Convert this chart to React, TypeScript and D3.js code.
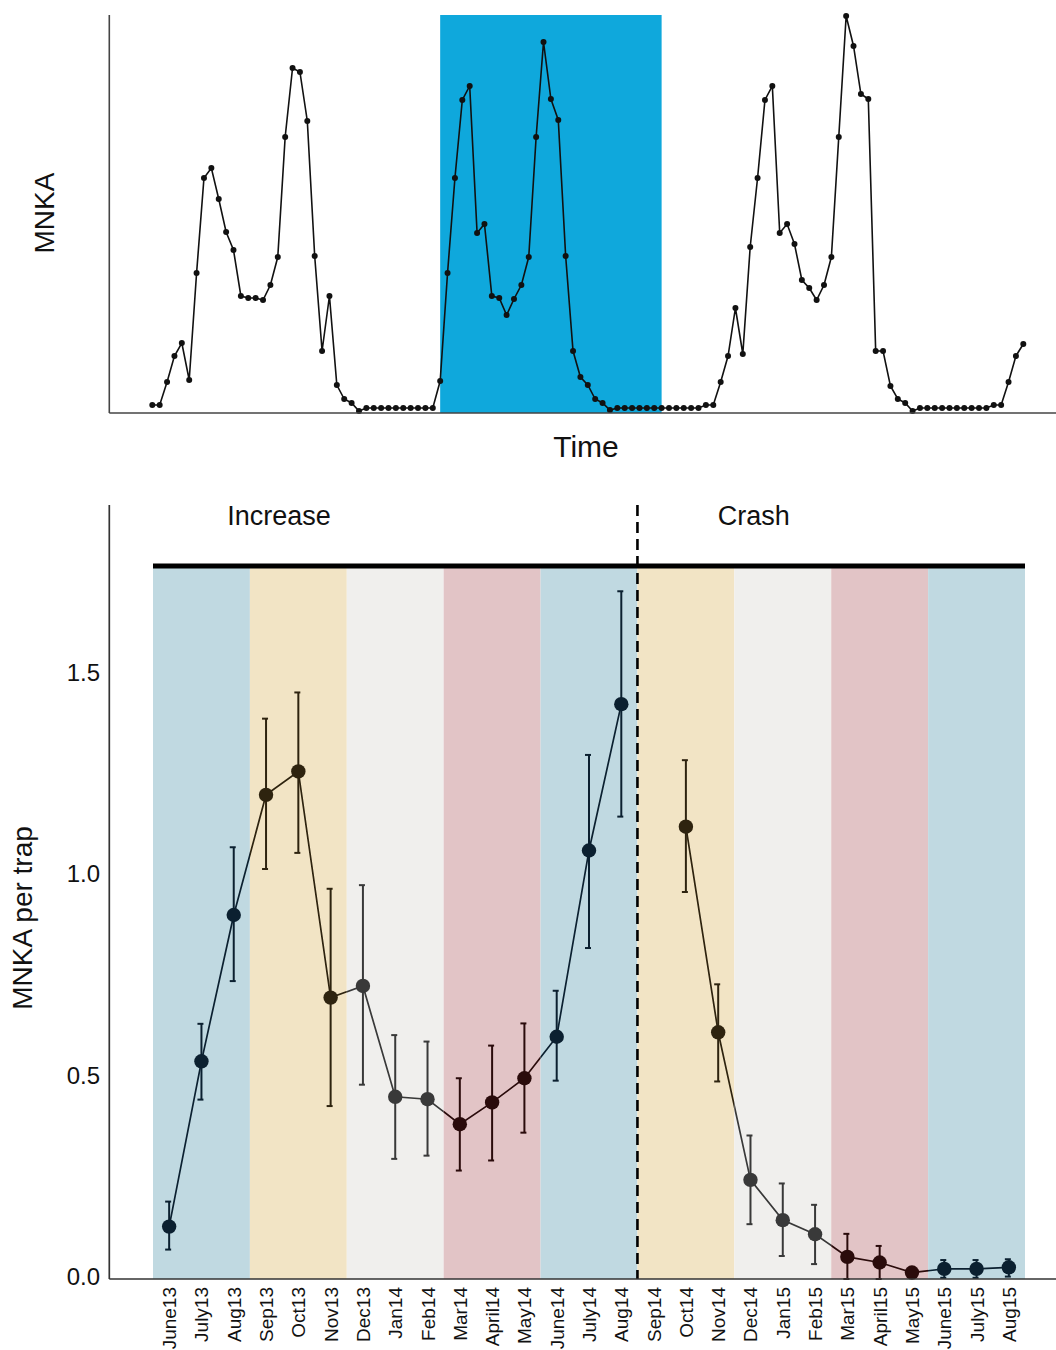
import React from "react";
import * as d3 from "d3";

// ---------- Top panel data (MNKA over time, arbitrary units) ----------
const topValues: number[] = [
  8, 8, 31, 57, 70, 33, 140, 235, 245, 214, 181, 163, 117, 115, 115, 113, 128, 156, 276, 345,
  341, 292, 157, 62, 117, 28, 14, 10, 2, 5, 5, 5, 5, 5, 5, 5, 5, 5, 5,
  32, 140, 235, 313, 327, 180, 189, 117, 115, 98, 114, 128, 156, 276, 371, 314, 293, 157, 62,
  36, 28, 14, 10, 3, 5, 5, 5, 5, 5, 5, 5, 5, 5, 5, 5, 5,
  8, 8, 31, 57, 105, 59, 166, 235, 313, 327, 180, 189, 169, 133, 125, 113, 128, 156, 276, 397,
  367, 319, 314, 62, 62, 27, 14, 10, 2, 5, 5, 5, 5, 5, 5, 5, 5, 5, 5,
  8, 8, 31, 57, 69,
];
const highlightRange: [number, number] = [39, 69];

// ---------- Bottom panel data ----------
const months: string[] = [
  "June13", "July13", "Aug13", "Sep13", "Oct13", "Nov13", "Dec13", "Jan14", "Feb14",
  "Mar14", "April14", "May14", "June14", "July14", "Aug14", "Sep14", "Oct14", "Nov14",
  "Dec14", "Jan15", "Feb15", "Mar15", "April15", "May15", "June15", "July15", "Aug15",
];
const meanMNKA: (number | null)[] = [
  0.13, 0.54, 0.903, 1.201, 1.259, 0.698, 0.727, 0.452, 0.446, 0.384, 0.438, 0.498, 0.601,
  1.063, 1.426, null, 1.122, 0.612, 0.246, 0.146, 0.111, 0.055, 0.041, 0.016, 0.025, 0.025, 0.029,
];
const upperMNKA: (number | null)[] = [
  0.192, 0.633, 1.071, 1.39, 1.455, 0.968, 0.977, 0.605, 0.589, 0.498, 0.579, 0.634, 0.715,
  1.3, 1.706, null, 1.287, 0.731, 0.356, 0.237, 0.184, 0.112, 0.082, 0.02, 0.047, 0.047, 0.049,
];
const lowerMNKA: (number | null)[] = [
  0.073, 0.445, 0.739, 1.017, 1.057, 0.429, 0.482, 0.298, 0.306, 0.269, 0.294, 0.363, 0.492,
  0.821, 1.147, null, 0.96, 0.49, 0.136, 0.057, 0.037, 0.0, 0.0, 0.012, 0.003, 0.003, 0.006,
];
const seasons: string[] = [
  "summer", "autumn", "winter", "spring", "summer", "autumn", "winter", "spring", "summer",
];
const yTicks: number[] = [0, 0.5, 1.0, 1.5];
const phases: { label: string; at: string; offset: number }[] = [
  { label: "Increase", at: "Oct13", offset: -0.1 },
  { label: "Crash", at: "Dec14", offset: 0.6 },
];
const phaseBreak = "Sep14";

const bandFill: Record<string, string> = {
  summer: "#c0d9e1",
  autumn: "#f2e4c5",
  winter: "#f0efed",
  spring: "#e2c4c6",
};
const markColor: Record<string, string> = {
  summer: "#0b2030",
  autumn: "#2e230f",
  winter: "#393939",
  spring: "#2a0b0b",
};

const FONT = "'Liberation Sans', Arial, sans-serif";

export default function App() {
  // ----- top panel -----
  const xTop = d3.scaleLinear().domain([0, topValues.length - 1]).range([152.3, 1023.3]);
  const yTop = d3.scaleLinear().domain([0, 398]).range([413, 15]);
  const topLine = d3
    .line<number>()
    .x((_, i) => xTop(i))
    .y((d) => yTop(d));

  // ----- bottom panel -----
  const xB = d3.scaleBand<string>().domain(months).range([153, 1025]).padding(0);
  const bw = xB.bandwidth();
  const cx = (m: string) => (xB(m) as number) + bw / 2;
  const yB = d3.scaleLinear().domain([0, 1.92]).range([1279, 505]);
  const pts = months.map((m, i) => ({ m, i, v: meanMNKA[i], hi: upperMNKA[i], lo: lowerMNKA[i] }));
  const lineB = d3
    .line<typeof pts[number]>()
    .defined((d) => d.v != null)
    .x((d) => cx(d.m))
    .y((d) => yB(d.v as number));
  const pathB = lineB(pts) || "";
  const seasonOf = (i: number) => seasons[Math.floor(i / 3)];
  const bandTop = 566;
  const breakX = xB(phaseBreak) as number;

  return (
    <div style={{ position: "absolute", left: 0, top: 0 }}>
      <svg width={1056} height={1350} style={{ display: "block", fontFamily: FONT }}>
        <rect x={0} y={0} width={1056} height={1350} fill="#ffffff" />

        {/* ===== TOP PANEL ===== */}
        <rect
          x={xTop(highlightRange[0])}
          y={yTop(398)}
          width={xTop(highlightRange[1]) - xTop(highlightRange[0])}
          height={yTop(0) - yTop(398)}
          fill="#0fa8dc"
        />
        <path d={topLine(topValues) || ""} fill="none" stroke="#111" strokeWidth={1.6} />
        {topValues.map((v, i) => (
          <circle key={i} cx={xTop(i)} cy={yTop(v)} r={3} fill="#111" />
        ))}
        <line x1={109.3} x2={109.3} y1={yTop(398)} y2={yTop(0)} stroke="#444" strokeWidth={1.6} />
        <line x1={109.3} x2={1056} y1={yTop(0)} y2={yTop(0)} stroke="#444" strokeWidth={1.6} />
        <text
          x={586}
          y={449}
          textAnchor="middle"
          dominantBaseline="middle"
          fontSize={30}
          fill="#111"
        >
          Time
        </text>
        <text
          transform={`translate(47,${213}) rotate(-90)`}
          textAnchor="middle"
          dominantBaseline="middle"
          fontSize={28}
          fill="#111"
        >
          MNKA
        </text>

        {/* ===== BOTTOM PANEL ===== */}
        <defs>
          {seasons.map((s, k) => (
            <clipPath id={`band-clip-${k}`} key={k}>
              <rect
                x={xB(months[k * 3]) as number}
                y={0}
                width={bw * 3}
                height={1350}
              />
            </clipPath>
          ))}
        </defs>
        {seasons.map((s, k) => (
          <rect
            key={k}
            x={xB(months[k * 3]) as number}
            y={bandTop}
            width={bw * 3}
            height={yB(0) - bandTop}
            fill={bandFill[s]}
          />
        ))}
        {/* connecting line coloured per season band */}
        {seasons.map((s, k) => (
          <path
            key={k}
            d={pathB}
            fill="none"
            stroke={markColor[s]}
            strokeWidth={1.7}
            clipPath={`url(#band-clip-${k})`}
          />
        ))}
        {/* error bars */}
        {pts
          .filter((d) => d.v != null)
          .map((d) => {
            const c = markColor[seasonOf(d.i)];
            const x = cx(d.m);
            return (
              <g key={d.m} stroke={c} strokeWidth={2}>
                <line x1={x} x2={x} y1={yB(d.hi as number)} y2={yB(d.lo as number)} />
                <line x1={x - 4} x2={x + 2} y1={yB(d.hi as number)} y2={yB(d.hi as number)} />
                <line x1={x - 4} x2={x + 2} y1={yB(d.lo as number)} y2={yB(d.lo as number)} />
              </g>
            );
          })}
        {/* points */}
        {pts
          .filter((d) => d.v != null)
          .map((d) => (
            <circle
              key={d.m}
              cx={cx(d.m)}
              cy={yB(d.v as number)}
              r={7.2}
              fill={markColor[seasonOf(d.i)]}
            />
          ))}

        {/* phase bar and divider */}
        <line
          x1={xB(months[0]) as number}
          x2={(xB(months[months.length - 1]) as number) + bw}
          y1={bandTop}
          y2={bandTop}
          stroke="#000"
          strokeWidth={5}
        />
        <line
          x1={breakX}
          x2={breakX}
          y1={yB(1.92)}
          y2={yB(0)}
          stroke="#000"
          strokeWidth={2.6}
          strokeDasharray="11,6"
        />
        {phases.map((p) => (
          <text
            key={p.label}
            x={(xB(p.at) as number) + p.offset * bw}
            y={518}
            textAnchor="middle"
            dominantBaseline="middle"
            fontSize={27}
            fill="#111"
          >
            {p.label}
          </text>
        ))}

        {/* axes */}
        <line x1={109.3} x2={109.3} y1={yB(1.92)} y2={yB(0)} stroke="#333" strokeWidth={1.7} />
        <line x1={109.3} x2={1056} y1={yB(0)} y2={yB(0)} stroke="#333" strokeWidth={1.7} />
        {yTicks.map((t) => (
          <text
            key={t}
            x={100}
            y={yB(t)}
            textAnchor="end"
            dominantBaseline="middle"
            fontSize={24}
            fill="#111"
          >
            {d3.format(".1f")(t)}
          </text>
        ))}
        {months.map((m) => (
          <text
            key={m}
            transform={`translate(${cx(m) + 7},${1287}) rotate(-90)`}
            textAnchor="end"
            fontSize={19}
            fill="#111"
          >
            {m}
          </text>
        ))}
        <text
          transform={`translate(25,${918}) rotate(-90)`}
          textAnchor="middle"
          dominantBaseline="middle"
          fontSize={28}
          fill="#111"
        >
          MNKA per trap
        </text>
      </svg>
    </div>
  );
}
